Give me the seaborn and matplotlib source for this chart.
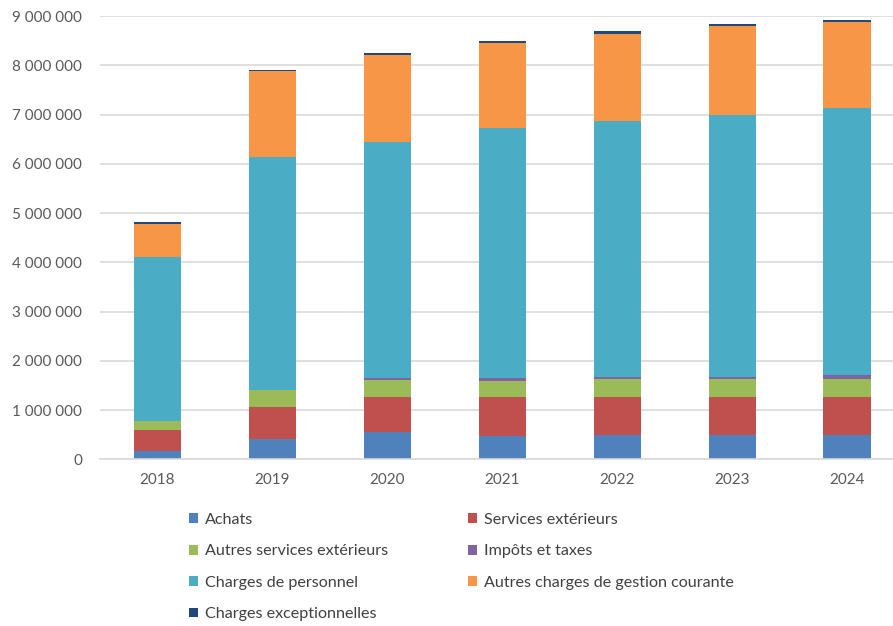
import matplotlib
matplotlib.use("Agg")
import matplotlib.pyplot as plt
from matplotlib.patches import Patch
from matplotlib.ticker import FuncFormatter
import seaborn as sns
import pandas as pd
import numpy as np

years = ["2018", "2019", "2020", "2021", "2022", "2023", "2024"]

achats = [160000, 410000, 560000, 480000, 490000, 500000, 490000]
services_ext = [440000, 660000, 700000, 780000, 770000, 770000, 770000]
autres_services_ext = [180000, 330000, 360000, 330000, 370000, 370000, 370000]
impots_taxes = [3000, 3000, 30000, 70000, 40000, 40000, 80000]
charges_personnel = [3320000, 4740000, 4790000, 5070000, 5200000, 5300000, 5420000]
autres_charges_gestion = [670000, 1740000, 1770000, 1730000, 1770000, 1810000, 1740000]
charges_exceptionnelles = [40000, 30000, 40000, 40000, 50000, 40000, 40000]

series_names = [
    "Achats",
    "Services extérieurs",
    "Autres services extérieurs",
    "Impôts et taxes",
    "Charges de personnel",
    "Autres charges de gestion courante",
    "Charges exceptionnelles",
]
series_values = [
    achats,
    services_ext,
    autres_services_ext,
    impots_taxes,
    charges_personnel,
    autres_charges_gestion,
    charges_exceptionnelles,
]
colors = ["#4F81BD", "#C0504D", "#9BBB59", "#8064A2", "#4BACC6", "#F79646", "#1F497D"]

sns.set_theme(style="white")
plt.rcParams["font.family"] = ["Lato", "DejaVu Sans"]

fig = plt.figure(figsize=(8.93, 6.26), dpi=100)
ax = fig.add_axes([100 / 893, 1 - 459.3 / 626, 1 - 100 / 893, (459.3 - 16) / 626])

bottom = np.zeros(len(years))
for name, vals, col in zip(series_names, series_values, colors):
    df = pd.DataFrame({"year": years, "value": vals})
    sns.barplot(data=df, x="year", y="value", color=col, bottom=bottom,
                width=0.41, ax=ax, linewidth=0, saturation=1, errorbar=None)
    bottom = bottom + np.array(vals)

ax.set_ylim(0, 9000000)
ax.set_yticks(np.arange(0, 9000001, 1000000))
ax.yaxis.set_major_formatter(FuncFormatter(lambda v, p: f"{int(v):,}".replace(",", " ")))
ax.set_xlim(-0.5, 6.4)
ax.grid(axis="y", color="#D9D9D9", linewidth=1.2)
ax.set_axisbelow(True)
for s in ["top", "right", "left"]:
    ax.spines[s].set_visible(False)
ax.spines["bottom"].set_color("#D9D9D9")
ax.spines["bottom"].set_linewidth(1.2)
ax.set_xlabel("")
ax.set_ylabel("")
ax.tick_params(axis="both", colors="#595959", labelsize=11, length=0)
ax.tick_params(axis="y", pad=13)
ax.tick_params(axis="x", pad=10)

handles = [Patch(facecolor=c, edgecolor="none") for c in colors]
col1 = [0, 2, 4, 6]
col2 = [1, 3, 5]
common = dict(frameon=False, fontsize=11.6, labelspacing=1.08, handlelength=0.55,
              handleheight=0.55, handletextpad=0.45, borderpad=0, borderaxespad=0,
              labelcolor="#404040", loc="upper left")
leg1 = fig.legend([handles[i] for i in col1], [series_names[i] for i in col1],
                  bbox_to_anchor=(189 / 893, 1 - 513 / 626), **common)
leg2 = fig.legend([handles[i] for i in col2], [series_names[i] for i in col2],
                  bbox_to_anchor=(468 / 893, 1 - 513 / 626), **common)

fig.savefig("out.png", dpi=100)
